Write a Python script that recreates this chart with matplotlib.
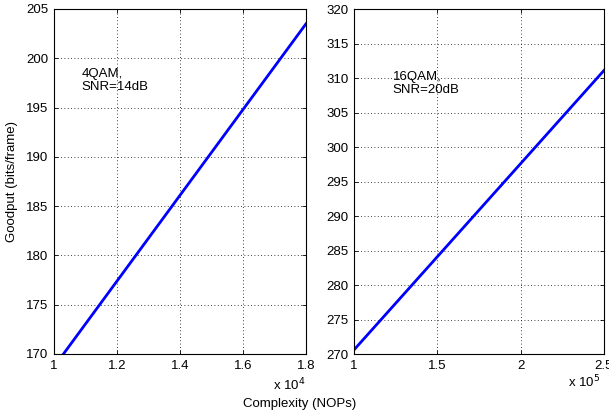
import numpy as np
import matplotlib.pyplot as plt

plt.rcParams['font.family'] = ['Liberation Sans', 'DejaVu Sans']
plt.rcParams['font.size'] = 9.5

# left panel: 4QAM, SNR=14dB (complexity in units of 1e4 NOPs)
cx_4qam = [1.0, 1.2, 1.4, 1.6, 1.8]
gp_4qam = [168.7, 177.4, 186.1, 194.8, 203.5]
# right panel: 16QAM, SNR=20dB (complexity in units of 1e5 NOPs)
cx_16qam = [1.0, 1.5, 2.0, 2.5]
gp_16qam = [270.6, 284.1, 297.6, 311.1]

fig = plt.figure(figsize=(6.09, 4.17), dpi=100)
ax1 = fig.add_axes([54/609, 1 - 354/417, 252/609, 345/417])
ax2 = fig.add_axes([354/609, 1 - 354/417, 250/609, 345/417])

def style(ax):
    ax.grid(True, linestyle=(0, (1, 3)), color='black', linewidth=0.6)
    ax.tick_params(direction='in', length=3, width=0.6, top=True, right=True,
                   labelsize=9.5, pad=4)
    for s in ax.spines.values():
        s.set_linewidth(0.8)

ax1.plot(cx_4qam, gp_4qam, color='#0000ff', linewidth=2)
ax1.set_xlim(1, 1.8)
ax1.set_ylim(170, 205)
ax1.set_xticks([1, 1.2, 1.4, 1.6, 1.8])
ax1.set_xticklabels(['1', '1.2', '1.4', '1.6', '1.8'])
ax1.set_yticks(np.arange(170, 206, 5))
style(ax1)
ax1.text(0.11, 0.83, '4QAM,\nSNR=14dB', transform=ax1.transAxes, fontsize=9.5,
         va='top', linespacing=1.1)
fig.text(306/609, 1 - 377/417, r'x 10$^4$', fontsize=9.5, ha='right', va='top')
ax1.set_ylabel('Goodput (bits/frame)', fontsize=9.5, labelpad=6)

ax2.plot(cx_16qam, gp_16qam, color='#0000ff', linewidth=2)
ax2.set_xlim(1, 2.5)
ax2.set_ylim(270, 320)
ax2.set_xticks([1, 1.5, 2, 2.5])
ax2.set_xticklabels(['1', '1.5', '2', '2.5'])
ax2.set_yticks(np.arange(270, 321, 5))
style(ax2)
ax2.text(0.155, 0.82, '16QAM,\nSNR=20dB', transform=ax2.transAxes, fontsize=9.5,
         va='top', linespacing=1.1)
fig.text(600/609, 1 - 374/417, r'x 10$^5$', fontsize=9.5, ha='right', va='top')

fig.text(300/609, 1 - 404/417, 'Complexity (NOPs)', ha='center', va='center', fontsize=9.5)

fig.savefig('out.png', dpi=100)
